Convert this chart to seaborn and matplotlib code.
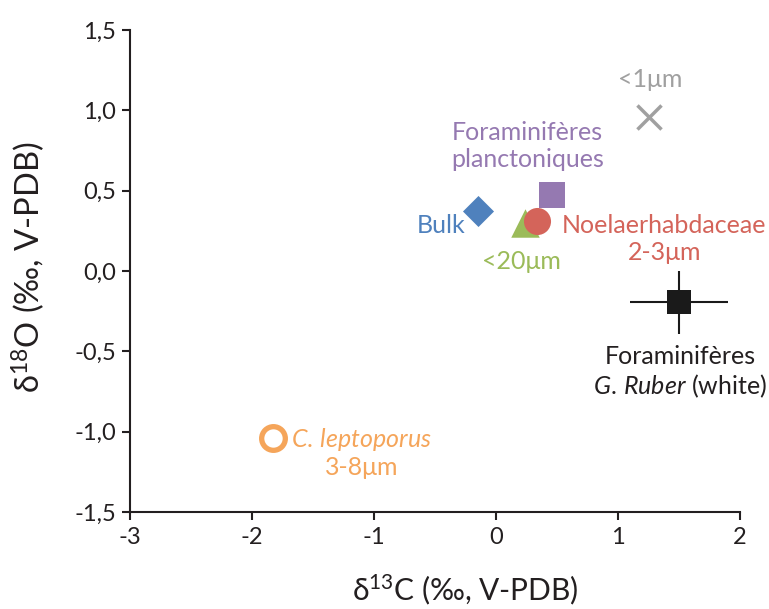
import numpy as np
import pandas as pd
import matplotlib
matplotlib.use("Agg")
import matplotlib.pyplot as plt
import seaborn as sns

# ---- data ----
names = ["Bulk", "<20μm", "Noelaerhabdaceae", "Foraminifères planctoniques",
         "<1μm", "G. Ruber", "C. leptoporus"]
d13C = [-0.15, 0.24, 0.34, 0.455, 1.255, 1.50, -1.83]
d18O = [0.373, 0.30, 0.314, 0.473, 0.961, -0.196, -1.04]
d13C_err = [0, 0, 0, 0, 0, 0.40, 0]
d18O_err = [0, 0, 0, 0, 0, 0.196, 0]
xticks = [-3, -2, -1, 0, 1, 2]
xticklabels = ["-3", "-2", "-1", "0", "1", "2"]
yticks = [-1.5, -1.0, -0.5, 0.0, 0.5, 1.0, 1.5]
yticklabels = ["-1,5", "-1,0", "-0,5", "0,0", "0,5", "1,0", "1,5"]

df = pd.DataFrame({"name": names, "d13C": d13C, "d18O": d18O})

sns.set_style("ticks")
FONT = ["Lato", "DejaVu Sans"]
plt.rcParams["font.family"] = FONT
plt.rcParams["mathtext.fontset"] = "custom"
plt.rcParams["mathtext.rm"] = "Lato"
plt.rcParams["mathtext.it"] = "Lato:italic"

INK = "#231f20"
fig = plt.figure(figsize=(7.69, 6.09), dpi=100)
ax = fig.add_axes([130 / 769, 97 / 609, 610 / 769, 482 / 609])

styles = {
    "Bulk": dict(marker="D", s=250, color="#4f81bd", linewidth=0),
    "<20μm": dict(marker="^", s=420, color="#9bbb59", linewidth=0),
    "Noelaerhabdaceae": dict(marker="o", s=380, color="#d4645a", linewidth=0),
    "Foraminifères planctoniques": dict(marker="s", s=330, color="#9579b1", linewidth=0),
    "<1μm": dict(marker="x", s=300, color="#a0a0a0", linewidth=2.5),
    "G. Ruber": dict(marker="s", s=300, color="#1a1a1a", linewidth=0),
    "C. leptoporus": dict(marker="o", s=290, facecolor="white", edgecolor="#f5a55a", linewidth=3.8),
}

# error bars for G. Ruber
i = names.index("G. Ruber")
ax.errorbar(d13C[i], d18O[i], xerr=d13C_err[i], yerr=d18O_err[i], fmt="none",
            ecolor="#1a1a1a", elinewidth=1.5, capsize=0, zorder=2)

for n in names:
    sub = df[df["name"] == n]
    kw = dict(styles[n])
    sns.scatterplot(data=sub, x="d13C", y="d18O", ax=ax, zorder=3, legend=False, **kw)

fs = 18
ax.text(1.26, 1.19, "<1μm", color="#a0a0a0", fontsize=fs, ha="center", va="center")
ax.text(0.26, 0.78, "Foraminifères\nplanctoniques", color="#9579b1", fontsize=fs,
        ha="center", va="center", linespacing=1.2)
ax.text(-0.25, 0.285, "Bulk", color="#4f81bd", fontsize=fs, ha="right", va="center")
ax.text(0.21, 0.06, "<20μm", color="#9bbb59", fontsize=fs, ha="center", va="center")
ax.text(1.38, 0.20, "Noelaerhabdaceae\n2-3μm", color="#d4645a", fontsize=fs,
        ha="center", va="center", linespacing=1.2)
ax.text(1.51, -0.63, "Foraminifères\n$G.\\,Ruber$ (white)", color=INK, fontsize=fs,
        ha="center", va="center", linespacing=1.2)
ax.text(-1.10, -1.13, "$C.\\,leptoporus$\n3-8μm", color="#f5a55a", fontsize=fs,
        ha="center", va="center", linespacing=1.2)

ax.set_xlim(-3, 2)
ax.set_ylim(-1.5, 1.5)
ax.set_xticks(xticks)
ax.set_xticklabels(xticklabels)
ax.set_yticks(yticks)
ax.set_yticklabels(yticklabels)
ax.tick_params(labelsize=17, length=6, width=1.5, color=INK, labelcolor=INK)
ax.tick_params(axis="y", pad=4)
ax.tick_params(axis="x", pad=5)
for sp in ["top", "right"]:
    ax.spines[sp].set_visible(False)
for sp in ["left", "bottom"]:
    ax.spines[sp].set_linewidth(1.5)
    ax.spines[sp].set_color(INK)

ax.set_xlabel("δ$^{13}$C (‰, V-PDB)", fontsize=21.5, color=INK)
ax.set_ylabel("δ$^{18}$O (‰, V-PDB)", fontsize=23.5, color=INK)
ax.xaxis.set_label_coords((465 - 130) / 610, -(590 - 512) / 482)
ax.yaxis.set_label_coords(-(130 - 28) / 610, (512 - 267) / 482)
ax.xaxis.label.set_va("center")
ax.yaxis.label.set_va("center")

fig.savefig("out.png", dpi=100)
